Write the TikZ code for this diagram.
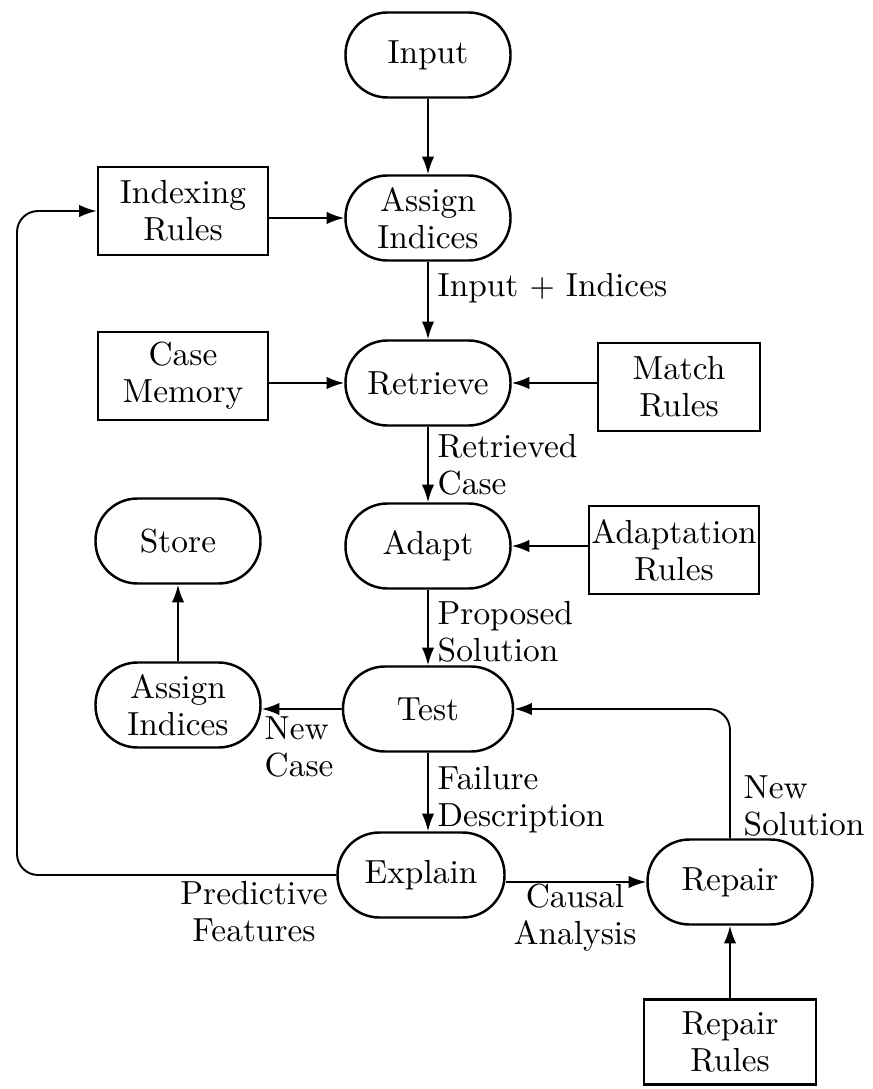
\documentclass[tikz,border=0pt]{standalone}
\usepackage{tikz}
\usetikzlibrary{arrows.meta}

\tikzset{
  proc/.style={draw, line width=0.7pt, rounded corners=0.42cm, minimum width=1.65cm, minimum height=0.85cm, align=center, inner sep=1pt},
  rules/.style={draw, line width=0.7pt, minimum width=1.7cm, minimum height=0.88cm, align=center, inner sep=1pt},
  lbl/.style={inner sep=0pt, align=left, anchor=west},
  arr/.style={-{Latex[length=5pt,width=3.5pt]}, line width=0.55pt},
}

\begin{document}
\begin{tikzpicture}[font=\fontsize{9.5}{10.5}\selectfont]
\useasboundingbox (0,0) rectangle (8.73,-10.89);

\node[proc] (input) at (4.28,-0.55) {Input};
\node[proc] (assign) at (4.28,-2.18) {Assign\\Indices};
\node[rules] (indexing) at (1.83,-2.11) {Indexing\\Rules};
\node[proc] (retrieve) at (4.28,-3.83) {Retrieve};
\node[rules] (casemem) at (1.83,-3.76) {Case\\Memory};
\node[rules, minimum width=1.62cm] (match) at (6.79,-3.87) {Match\\Rules};
\node[proc] (adapt) at (4.28,-5.46) {Adapt};
\node[proc] (store) at (1.78,-5.41) {Store};
\node[rules, minimum width=1.7cm, inner xsep=0pt] (adaptrules) at (6.74,-5.50) {Adaptation\\Rules};
\node[proc, minimum width=1.7cm] (test) at (4.28,-7.09) {Test};
\node[proc] (assigntwo) at (1.78,-7.05) {Assign\\Indices};
\node[proc, minimum width=1.67cm] (explain) at (4.21,-8.75) {Explain};
\node[proc] (repair) at (7.30,-8.82) {Repair};
\node[rules, minimum width=1.72cm, minimum height=0.85cm] (repairrules) at (7.30,-10.42) {Repair\\Rules};

\node[lbl] (linputidx) at (4.37,-2.88) {Input $+$ Indices};
\node[lbl] (lretrieved) at (4.37,-4.65) {Retrieved\\Case};
\node[lbl] (lproposed) at (4.37,-6.32) {Proposed\\Solution};
\node[lbl] (lfailure) at (4.37,-8.00) {Failure\\Description};
\node[lbl] (lnewsol) at (7.43,-8.06) {New\\Solution};
\node[lbl] (lnewcase) at (2.64,-7.47) {New\\Case};
\node[align=center, inner sep=0pt] (lpredict) at (2.54,-9.12) {Predictive\\Features};
\node[align=center, inner sep=0pt] (lcausal) at (5.75,-9.18) {Causal\\Analysis};

\coordinate (loopx) at (0.17,0);

\draw[arr] (input) -- (assign);
\draw[arr] (indexing.east |- assign) -- (assign);
\draw[arr] (assign) -- (retrieve);
\draw[arr] (casemem.east |- retrieve) -- (retrieve);
\draw[arr] (match.west |- retrieve) -- (retrieve);
\draw[arr] (retrieve) -- (adapt);
\draw[arr] (adaptrules.west |- adapt) -- (adapt);
\draw[arr] (adapt) -- (test);
\draw[arr] (test.west) -- (assigntwo.east |- test.west);
\draw[arr] (assigntwo) -- (store);
\draw[arr] (test) -- (explain.north -| test);
\draw[arr] (explain.east |- repair) -- (repair);
\draw[arr] (repairrules) -- (repair);
\draw[arr, rounded corners=6pt] (repair.north) |- (test.east);
\draw[arr, rounded corners=6pt] (explain.west) -| (loopx |- indexing.west) -- (indexing.west);
\end{tikzpicture}
\end{document}
